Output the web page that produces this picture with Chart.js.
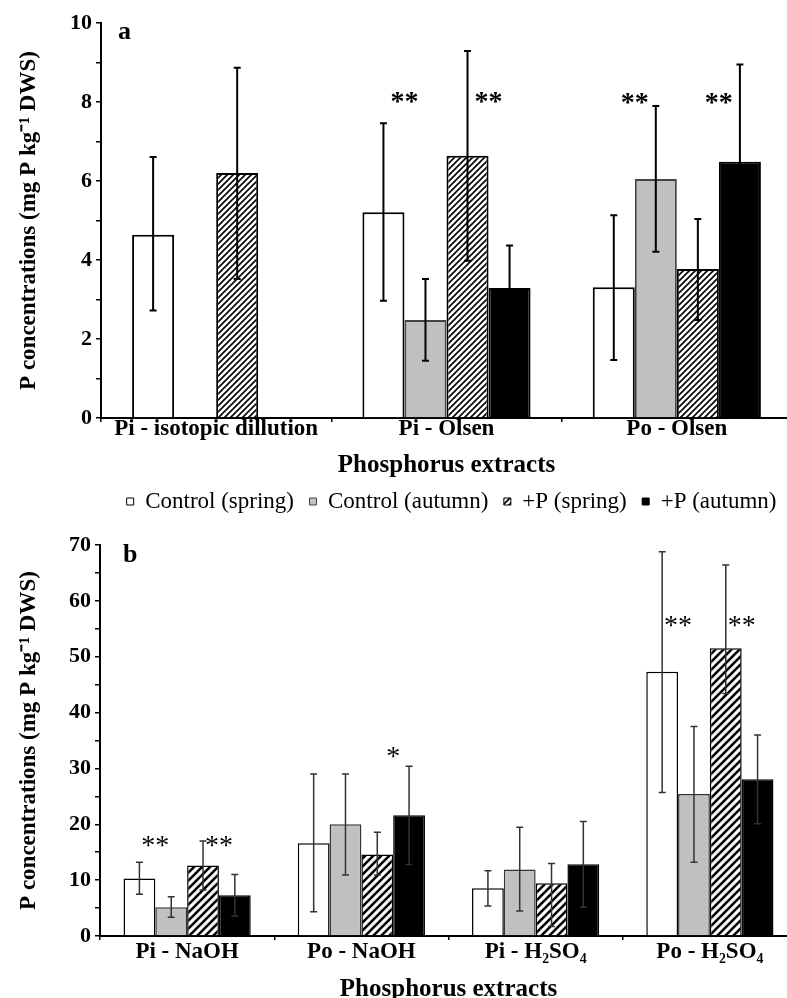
<!DOCTYPE html>
<html><head><meta charset="utf-8">
<script src="https://cdn.jsdelivr.net/npm/chart.js@4.4.1/dist/chart.umd.min.js"></script>
<style>
html,body{margin:0;padding:0;background:#fff;overflow:hidden;width:787px;height:998px;position:relative;}
#wa{position:absolute;left:0;top:0;width:792px;height:530px;}
#wb{position:absolute;left:0;top:525px;width:797px;height:480px;}
canvas{display:block;}
</style></head><body>
<div id="wa"><canvas id="ca" width="792" height="530"></canvas></div>
<div id="wb"><canvas id="cb" width="797" height="480"></canvas></div>
<script>
// ---------- data ----------
const seriesNames = ['Control (spring)', 'Control (autumn)', '+P (spring)', '+P (autumn)'];

// panel a
const categoriesA = ['Pi - isotopic dillution', 'Pi - Olsen', 'Po - Olsen'];
const ctrlSpringA = [4.64, 5.21, 3.31];
const ctrlAutumnA = [null, 2.48, 6.05];
const pSpringA    = [6.20, 6.64, 3.77];
const pAutumnA    = [null, 3.29, 6.49];
const ctrlSpringA_hi = [6.61, 7.46, 5.13];
const ctrlSpringA_lo = [2.72, 2.97, 1.47];
const ctrlAutumnA_hi = [null, 3.52, 7.90];
const ctrlAutumnA_lo = [null, 1.45, 4.21];
const pSpringA_hi    = [8.87, 9.29, 5.04];
const pSpringA_lo    = [3.52, 3.98, 2.48];
const pAutumnA_hi    = [null, 4.37, 8.95];
const pAutumnA_lo    = [null, 2.21, 4.03];
const yTicksA = [0, 2, 4, 6, 8, 10];
const starCatA    = [1, 1, 2, 2];
const starSeriesA = [1, 3, 1, 3];
const starLevelA  = [8.07, 8.07, 8.05, 8.05];
const starTextA   = ['**', '**', '**', '**'];

// panel b
const categoriesB = ['Pi - NaOH', 'Po - NaOH', 'Pi - H\u2082SO\u2084', 'Po - H\u2082SO\u2084'];
const ctrlSpringB = [10.3, 16.6, 8.53, 47.3];
const ctrlAutumnB = [5.13, 20.0, 11.9, 25.4];
const pSpringB    = [12.6, 14.6, 9.43, 51.5];
const pAutumnB    = [7.28, 21.6, 12.83, 28.05];
const ctrlSpringB_hi = [13.2, 29.0, 11.7, 68.8];
const ctrlSpringB_lo = [7.46, 4.35, 5.37, 25.7];
const ctrlAutumnB_hi = [7.04, 29.0, 19.45, 37.5];
const ctrlAutumnB_lo = [3.34, 10.9, 4.48, 13.2];
const pSpringB_hi    = [17.0, 18.56, 13.0, 66.4];
const pSpringB_lo    = [8.23, 10.9, 1.7, 43.4];
const pAutumnB_hi    = [11.0, 30.4, 20.5, 36.0];
const pAutumnB_lo    = [3.56, 12.8, 5.16, 20.1];
const yTicksB = [0, 10, 20, 30, 40, 50, 60, 70];
const starCatB    = [0, 0, 1, 3, 3];
const starSeriesB = [1, 3, 3, 1, 3];
const starLevelB  = [16.6, 16.6, 32.6, 55.9, 55.9];
const starTextB   = ['**', '**', '*', '**', '**'];

// ---------- styling helpers ----------
const FONT = "'Liberation Serif', 'Times New Roman', serif";

function hatch(size, lw) {
  const c = document.createElement('canvas');
  c.width = size; c.height = size;
  const g = c.getContext('2d');
  g.fillStyle = '#fff'; g.fillRect(0, 0, size, size);
  g.strokeStyle = '#000'; g.lineWidth = lw; g.lineCap = 'square';
  g.beginPath();
  g.moveTo(0, size); g.lineTo(size, 0);
  g.moveTo(-size / 2, size / 2); g.lineTo(size / 2, -size / 2);
  g.moveTo(size / 2, size * 1.5); g.lineTo(size * 1.5, size / 2);
  g.stroke();
  return g.createPattern(c, 'repeat');
}

const errPlugin = {
  id: 'errbars',
  afterDatasetsDraw(chart, args, o) {
    const ctx = chart.ctx, ys = chart.scales.y;
    ctx.save();
    ctx.strokeStyle = o.color; ctx.lineWidth = o.lineWidth;
    o.hi.forEach((his, i) => {
      const meta = chart.getDatasetMeta(i);
      meta.data.forEach((bar, j) => {
        const h = his[j], l = o.lo[i][j];
        if (h == null || l == null) return;
        const x = bar.x;
        const yh = ys.getPixelForValue(h), yl = ys.getPixelForValue(l);
        ctx.beginPath();
        ctx.moveTo(x, yh); ctx.lineTo(x, yl);
        ctx.moveTo(x - o.cap, yh); ctx.lineTo(x + o.cap, yh);
        ctx.moveTo(x - o.cap, yl); ctx.lineTo(x + o.cap, yl);
        ctx.stroke();
      });
    });
    ctx.restore();
  }
};

const starPlugin = {
  id: 'stars',
  afterDatasetsDraw(chart, args, o) {
    const ctx = chart.ctx, ys = chart.scales.y;
    ctx.save();
    ctx.fillStyle = '#000';
    ctx.font = o.weight + ' ' + o.size + 'px ' + FONT;
    ctx.textAlign = 'center'; ctx.textBaseline = 'middle';
    o.cat.forEach((c, k) => {
      const bar = chart.getDatasetMeta(o.series[k]).data[c];
      const x = bar.x - bar.width * 0.5;
      const y = ys.getPixelForValue(o.level[k]) + 0.12 * o.size;
      ctx.fillText(o.text[k], x, y);
    });
    ctx.restore();
  }
};

const letterPlugin = {
  id: 'panelLetter',
  afterDraw(chart, args, o) {
    const ctx = chart.ctx;
    ctx.save();
    ctx.fillStyle = '#000';
    ctx.font = 'bold ' + o.size + 'px ' + FONT;
    ctx.textAlign = 'left'; ctx.textBaseline = 'middle';
    ctx.fillText(o.text, chart.chartArea.left + o.dx, chart.chartArea.top + o.dy);
    ctx.restore();
  }
};

function datasets(vals, hatchPat, bw, edge) {
  const bg = ['#ffffff', '#c0c0c0', hatchPat, '#000000'];
  const bc = ['#000000', edge, '#000000', '#000000'];
  return vals.map((v, i) => ({
    label: seriesNames[i],
    data: v,
    backgroundColor: bg[i],
    borderColor: bc[i],
    borderWidth: bw,
    categoryPercentage: 0.73,
    barPercentage: 1.0
  }));
}

function yScale(max, step, labels, width, titlePadTop) {
  return {
    min: 0, max: max,
    ticks: {
      stepSize: step, autoSkip: false, color: '#000', padding: 4,
      font: { family: FONT, size: 22, weight: 'bold' },
      callback: (v) => labels.includes(v) ? String(v) : ''
    },
    grid: { drawOnChartArea: false, drawTicks: true, tickLength: 5, color: '#000', lineWidth: 1.5 },
    border: { color: '#000', width: 2 },
    title: {
      display: true, text: 'P concentrations (mg P kg\u207B\u00B9 DWS)', color: '#000',
      font: { family: FONT, size: 23, weight: 'bold' },
      padding: { top: titlePadTop, bottom: 0 }
    },
    afterFit: (s) => { s.width = width; }
  };
}

function xScale(height, tickPad, titlePadBottom) {
  return {
    ticks: {
      color: '#000', padding: tickPad, autoSkip: false, maxRotation: 0,
      font: { family: FONT, size: 23, weight: 'bold', lineHeight: 1 }
    },
    grid: { drawOnChartArea: false, drawTicks: true, tickLength: 4, color: '#000', lineWidth: 1.5 },
    border: { color: '#000', width: 2 },
    title: {
      display: true, text: 'Phosphorus extracts', color: '#000',
      font: { family: FONT, size: 25, weight: 'bold' },
      padding: { top: 0, bottom: titlePadBottom }
    },
    afterFit: (s) => { s.height = height; }
  };
}

// ---------- chart a ----------
const ctxA = document.getElementById('ca').getContext('2d');
new Chart(ctxA, {
  type: 'bar',
  data: {
    labels: categoriesA,
    datasets: datasets([ctrlSpringA, ctrlAutumnA, pSpringA, pAutumnA], hatch(6, 1.6), 2, '#444')
  },
  options: {
    responsive: false, animation: false,
    layout: { padding: { top: 23, right: 0, bottom: 7, left: 0 } },
    scales: { x: xScale(68, -4, 5), y: yScale(10, 1, yTicksA, 101, 15) },
    plugins: {
      tooltip: { enabled: false },
      legend: {
        display: true, position: 'bottom', align: 'end',
        labels: {
          color: '#000', boxWidth: 7, boxHeight: 7, padding: 4,
          font: { family: FONT, size: 23 },
          generateLabels: (chart) => Chart.defaults.plugins.legend.labels.generateLabels(chart)
            .map(it => Object.assign(it, { lineWidth: 1, text: it.text + '  ' }))
        }
      },
      errbars: {
        hi: [ctrlSpringA_hi, ctrlAutumnA_hi, pSpringA_hi, pAutumnA_hi],
        lo: [ctrlSpringA_lo, ctrlAutumnA_lo, pSpringA_lo, pAutumnA_lo],
        color: '#000', lineWidth: 2, cap: 3.5
      },
      stars: { cat: starCatA, series: starSeriesA, level: starLevelA, text: starTextA, size: 28, weight: 'bold' },
      panelLetter: { text: 'a', size: 26, dx: 17, dy: 9 }
    }
  },
  plugins: [errPlugin, starPlugin, letterPlugin]
});

// ---------- chart b ----------
const ctxB = document.getElementById('cb').getContext('2d');
new Chart(ctxB, {
  type: 'bar',
  data: {
    labels: categoriesB,
    datasets: datasets([ctrlSpringB, ctrlAutumnB, pSpringB, pAutumnB], hatch(8, 2.6), 1.5, '#333')
  },
  options: {
    responsive: false, animation: false,
    layout: { padding: { top: 20, right: 0, bottom: 0, left: 0 } },
    scales: { x: xScale(69, 1, 0), y: yScale(70, 5, yTicksB, 100, 15) },
    plugins: {
      tooltip: { enabled: false },
      legend: { display: false },
      errbars: {
        hi: [ctrlSpringB_hi, ctrlAutumnB_hi, pSpringB_hi, pAutumnB_hi],
        lo: [ctrlSpringB_lo, ctrlAutumnB_lo, pSpringB_lo, pAutumnB_lo],
        color: '#333', lineWidth: 1.5, cap: 3.5
      },
      stars: { cat: starCatB, series: starSeriesB, level: starLevelB, text: starTextB, size: 28, weight: 'normal' },
      panelLetter: { text: 'b', size: 26, dx: 23, dy: 10 }
    }
  },
  plugins: [errPlugin, starPlugin, letterPlugin]
});
</script>
</body></html>
